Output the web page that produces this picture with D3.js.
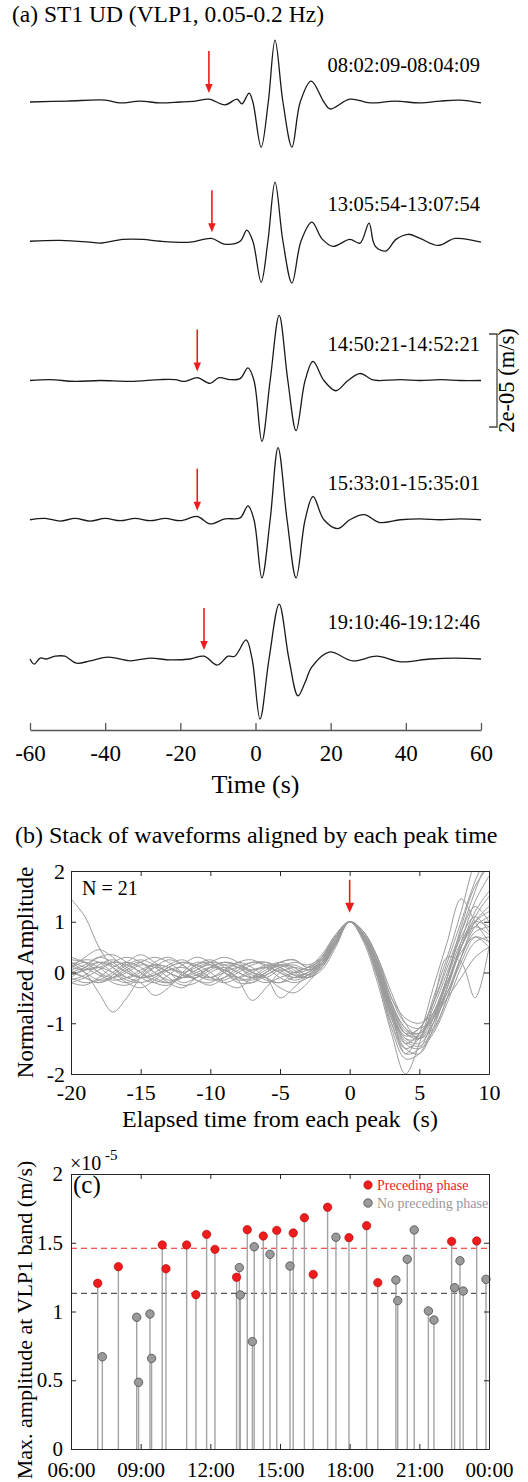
<!DOCTYPE html>
<html>
<head>
<meta charset="utf-8">
<script src="https://cdn.jsdelivr.net/npm/d3@7"></script>
<style>
  body { margin: 0; background: #fff; }
  svg { display: block; font-family: "Liberation Serif", "Times New Roman", serif; }
</style>
</head>
<body>
<div id="svgcontainer"></div>
<script>
/***************************************************************** */
/* data
/***************************************************************** */

// (a) five VLP1 waveforms, [time (s), velocity (1e-5 m/s)]
const wave1 = [[-60,0],[-50,0.02],[-40,0.04],[-36,-0.02],[-30.7,0.02],[-25.4,-0.02],[-20.1,0],[-16,0.02],[-12.4,0.06],[-8.1,-0.06],[-4.9,0.06],[-3.6,-0.04],[-1.7,0.19],[-0.7,0],[1.5,-0.97],[3.4,0],[5.2,1.33],[7.3,0],[9.7,-0.97],[11.9,0],[14.8,0.45],[18.2,0],[19.8,-0.15],[25.1,0.06],[30.5,-0.02],[37.1,0.02],[43.8,-0.02],[49.1,0.02],[54.4,0.04],[60,-0.02]]
const wave2 = [[-60,0],[-52,0.02],[-44,-0.02],[-41.4,-0.04],[-35.3,0.04],[-29.9,0.04],[-25.4,0],[-17.4,-0.02],[-11.7,0.06],[-8.4,-0.06],[-4.1,0],[-2.3,0.24],[-0.7,0],[1.5,-0.88],[3.3,0],[5.2,1.27],[7.3,0],[9.7,-0.9],[12.1,0],[15.0,0.41],[17.7,0.05],[20.6,-0.11],[25.1,0.04],[27.8,-0.04],[30.2,0.39],[31.3,0],[32.1,-0.13],[34.7,-0.21],[37.4,0.04],[40.6,0.15],[43.8,0.06],[48.6,-0.09],[53.1,0.06],[60,-0.02]]
const wave3 = [[-60,0],[-54.7,0.02],[-48,-0.02],[-41.4,0],[-33.4,-0.02],[-25.4,0.02],[-21.4,0.02],[-18.8,-0.02],[-15.5,0.06],[-12.1,-0.06],[-9.7,0.06],[-6.8,0.02],[-4.1,0.04],[-2.0,0.27],[-0.4,0],[1.7,-1.31],[3.9,0],[6.3,1.40],[8.6,0],[10.8,-1.08],[13.2,0],[15.3,0.41],[18.2,0],[21.4,-0.22],[24.6,0],[27.8,0.15],[31.0,0.02],[32.6,0],[38.5,0.02],[43.8,0],[49.1,0.02],[54.4,0],[60,0]]
const wave4 = [[-60,0],[-56,0.03],[-52,-0.03],[-48,0.03],[-44,-0.03],[-40,0.03],[-36,-0.02],[-32,0.03],[-28,-0.02],[-24,0.03],[-20,-0.02],[-15.5,0.07],[-12.1,-0.09],[-8.1,0.02],[-4.1,0.04],[-2.0,0.30],[-0.4,0],[1.7,-1.25],[3.9,0],[6.0,1.55],[8.4,0],[10.8,-1.25],[13.2,0],[15.3,0.50],[18.2,0],[21.9,-0.19],[25.1,0],[28.9,0.11],[33.1,-0.06],[38.5,0],[43.8,0.02],[49.1,0],[54.4,0.02],[60,0]]
const wave5 = [[-60,0],[-58.9,-0.11],[-57.3,0.02],[-55.7,0],[-53.3,0.06],[-50.7,0.06],[-47.7,-0.09],[-44,-0.04],[-39.2,0.04],[-33.3,-0.04],[-28.1,0.02],[-22.7,-0.02],[-17.4,0],[-13.7,0.06],[-10.2,-0.13],[-7.3,0.06],[-5.5,0.06],[-2.5,0.41],[-0.9,0],[1.2,-1.29],[3.6,0],[6.3,1.18],[8.9,0],[11.3,-0.79],[13.2,-0.5],[15.0,-0.17],[19.6,0.15],[25.9,-0.04],[32.3,0.06],[38.5,-0.06],[46.4,0],[53.1,0.02],[60,0]]
const waves = [wave1, wave2, wave3, wave4, wave5]
const wave_labels = ['08:02:09-08:04:09', '13:05:54-13:07:54', '14:50:21-14:52:21', '15:33:01-15:35:01', '19:10:46-19:12:46']
const arrow_times = [-12.4, -11.6, -15.5, -15.5, -13.7]   // preceding phase (s)
const a_ticks = [-60, -40, -20, 0, 20, 40, 60]

// (b) 21 normalized waveforms, one value per second from -20 to 10 s
const stack_times = d3.range(-20, 11)
const stack_waves = [
    [1.45,1.1,0.5,0.1,-0.1,0.0,0.15,0.1,-0.05,-0.1,0.05,0.15,0.1,-0.05,-0.1,0.05,0.0,0.05,0.3,0.7,1,0.7,0.1,-0.7,-1.2,-1.1,-0.6,0.1,0.8,1.3,1.0],
    [0.2,0.0,-0.4,-0.78,-0.5,-0.1,0.1,0.0,-0.2,-0.1,0.1,0.2,0.1,-0.1,-0.2,-0.1,0.0,0.1,0.35,0.75,1,0.75,0.2,-0.6,-1.1,-1.2,-0.9,-0.3,0.5,1.2,1.6],
    [0.1,0.3,0.45,0.3,0.05,-0.1,-0.05,0.1,0.2,0.1,-0.1,-0.2,-0.1,0.05,0.1,0.0,-0.15,-0.05,0.25,0.7,1,0.8,0.3,-0.4,-1.0,-1.3,-1.0,-0.4,0.3,0.8,0.9],
    [-0.1,0.1,0.3,0.35,0.2,0.0,-0.15,-0.2,-0.05,0.15,0.25,0.1,-0.15,-0.55,-0.3,0.0,0.1,0.05,0.2,0.6,1,0.65,-0.1,-1.0,-1.5,-1.3,-0.7,0.0,0.7,1.1,0.8],
    [0.05,-0.1,-0.2,-0.05,0.15,0.25,0.15,0.0,-0.1,-0.05,0.1,0.2,0.15,0.0,-0.1,-0.5,-0.3,-0.05,0.15,0.55,1,0.7,0.0,-0.9,-1.4,-1.2,-0.8,-0.2,0.4,0.7,0.5],
    [0.25,0.2,0.0,-0.2,-0.25,-0.1,0.1,0.25,0.15,-0.05,-0.15,-0.1,0.05,0.2,0.15,0.0,-0.1,0.0,0.3,0.7,1,0.75,0.15,-0.7,-1.6,-1.5,-0.9,-0.1,0.8,1.6,2.3],
    [-0.2,-0.25,-0.1,0.1,0.2,0.1,-0.1,-0.2,-0.1,0.05,0.15,0.05,-0.1,-0.15,0.0,0.15,0.1,-0.05,0.15,0.6,1,0.6,-0.2,-1.2,-2.0,-1.4,-0.5,0.3,1.2,2.2,2.8],
    [0.0,0.1,0.2,0.1,-0.1,-0.2,-0.45,-0.3,0.0,0.2,0.15,0.0,-0.15,-0.1,0.05,0.2,0.25,0.1,0.2,0.65,1,0.7,0.05,-0.8,-1.3,-1.4,-1.0,-0.3,0.5,1.0,1.2],
    [0.15,0.0,-0.15,-0.1,0.05,0.2,0.3,0.2,0.0,-0.15,-0.2,0.0,0.2,0.25,0.1,-0.1,-0.2,-0.1,0.2,0.7,1,0.8,0.25,-0.5,-0.9,-1.0,-0.8,-0.4,0.2,0.7,0.6],
    [-0.15,-0.05,0.15,0.25,0.1,-0.1,-0.2,-0.05,0.15,0.3,0.2,0.0,-0.1,0.0,0.15,0.1,-0.05,-0.1,0.1,0.55,1,0.7,0.0,-0.9,-1.5,-1.6,-1.1,-0.3,0.6,1.4,1.9],
    [0.3,0.2,0.0,-0.1,0.0,0.15,0.1,-0.1,-0.25,-0.2,0.0,0.1,0.0,-0.1,-0.05,0.1,0.2,0.15,0.3,0.7,1,0.65,-0.05,-1.0,-1.6,-1.2,-0.3,0.6,1.45,1.0,0.6],
    [-0.05,0.05,0.1,0.0,-0.15,-0.2,-0.1,0.1,0.2,0.15,0.0,-0.2,-0.3,-0.1,0.1,0.2,0.1,-0.05,0.1,0.6,1,0.75,0.1,-0.8,-1.4,-1.5,-1.2,-0.6,0.1,0.6,0.7],
    [0.1,0.2,0.1,-0.1,-0.2,-0.05,0.2,0.3,0.15,-0.05,-0.1,0.05,0.2,0.1,-0.1,-0.2,0.0,0.1,0.25,0.65,1,0.7,0.05,-0.7,-1.2,-1.3,-0.6,0.3,0.2,-0.5,0.5],
    [-0.2,-0.1,0.05,0.2,0.3,0.2,0.0,-0.15,-0.1,0.05,0.2,0.3,0.2,0.0,-0.15,-0.2,-0.1,0.0,0.2,0.6,1,0.75,0.2,-0.6,-1.1,-1.3,-1.1,-0.5,0.3,1.0,1.3],
    [0.05,0.15,0.3,0.2,0.0,-0.1,-0.05,0.05,0.0,-0.15,-0.25,-0.1,0.1,0.2,0.2,0.05,-0.1,-0.05,0.2,0.65,1,0.7,0.1,-0.75,-1.25,-1.1,-0.6,0.2,1.0,1.8,2.4],
    [-0.1,-0.2,-0.15,0.0,0.2,0.35,0.2,0.0,-0.1,0.0,0.1,0.05,-0.1,-0.2,-0.05,0.1,0.15,0.05,0.15,0.6,1,0.8,0.3,-0.5,-1.0,-1.1,-0.9,-0.5,-0.1,0.3,0.5],
    [0.2,0.1,-0.05,-0.15,-0.1,0.05,0.15,0.1,0.0,0.1,0.2,0.15,0.0,-0.1,0.0,0.2,0.25,0.1,0.3,0.75,1,0.65,-0.1,-1.1,-1.7,-1.6,-1.0,-0.1,0.9,1.7,2.1],
    [0.0,-0.1,-0.2,-0.1,0.1,0.2,0.0,-0.2,-0.3,-0.1,0.1,0.2,0.15,0.05,0.1,0.15,0.0,-0.1,0.1,0.55,1,0.7,0.0,-0.85,-1.35,-1.45,-1.15,-0.5,0.3,0.9,1.1],
    [0.1,0.05,0.1,0.2,0.15,0.0,-0.2,-0.25,-0.05,0.15,0.2,0.0,-0.2,-0.2,0.0,0.15,0.05,-0.1,0.05,0.5,1,0.75,0.15,-0.65,-1.2,-1.25,-0.8,-0.1,0.6,1.0,0.9],
    [-0.05,0.05,0.2,0.15,0.0,-0.1,0.0,0.15,0.25,0.1,-0.1,-0.15,0.0,0.15,0.2,0.1,-0.05,0.0,0.25,0.7,1,0.7,0.05,-0.8,-1.3,-1.3,-0.9,-0.2,0.5,0.9,0.75],
    [0.15,0.25,0.2,0.0,-0.2,-0.3,-0.15,0.05,0.1,0.0,-0.1,0.0,0.1,0.0,-0.1,-0.3,-0.4,-0.2,0.15,0.6,1,0.8,0.2,-0.6,-1.15,-1.2,-0.85,-0.2,0.5,1.1,1.5]
]
const b_xticks = [-20, -15, -10, -5, 0, 5, 10]
const b_yticks = [-2, -1, 0, 1, 2]

// (c) max amplitude per event (hour of day, 1e-5 m/s)
const red_hours = [7.15, 8.04, 9.93, 10.09, 10.98, 11.38, 11.84, 12.2, 13.13, 13.59, 14.28, 14.86, 15.57, 16.05, 16.43, 17.05, 17.97, 18.73, 19.21, 22.39, 23.47]
const red_amps = [1.205, 1.326, 1.484, 1.311, 1.484, 1.122, 1.561, 1.452, 1.249, 1.595, 1.549, 1.590, 1.571, 1.682, 1.270, 1.758, 1.537, 1.624, 1.210, 1.51, 1.513]
const gray_hours = [7.35, 8.83, 8.91, 9.40, 9.47, 13.25, 13.29, 13.81, 13.89, 14.57, 15.43, 17.41, 19.99, 20.07, 20.48, 20.78, 21.39, 21.63, 22.52, 22.75, 22.89, 23.87]
const gray_amps = [0.671, 0.958, 0.485, 0.982, 0.659, 1.319, 1.12, 0.781, 1.471, 1.416, 1.331, 1.54, 1.229, 1.079, 1.38, 1.593, 1.004, 0.938, 1.173, 1.369, 1.149, 1.234]
const mean_red = 1.46
const mean_gray = 1.132
const c_xticks = [6, 9, 12, 15, 18, 21, 24]
const c_xlabels = ['06:00', '09:00', '12:00', '15:00', '18:00', '21:00', '00:00']
const c_yticks = [0, 0.5, 1, 1.5, 2]


/**------------------------------------------------------------------------
 *                           SVG
 *------------------------------------------------------------------------**/
const ink = '#262626'
const red = '#ee1c1c'

let svg = d3.select('#svgcontainer')
    .append('svg')
    .attr('width', 528)
    .attr('height', 1482)

// restyle a d3 axis the MATLAB way
function style_axis(g, size) {
    g.attr('font-family', null).attr('font-size', size)
    g.selectAll('line').attr('stroke', ink)
    g.selectAll('path').attr('stroke', ink)
    g.selectAll('text').attr('fill', '#000')
}

function draw_arrow(g, x, y_tip, len, head_w, head_h) {
    g.append('line')
        .attr('x1', x).attr('x2', x)
        .attr('y1', y_tip - len).attr('y2', y_tip - head_h + 1)
        .attr('stroke', red).attr('stroke-width', 1.6)
    g.append('path')
        .attr('d', 'M' + (x - head_w / 2) + ',' + (y_tip - head_h) + 'L' + (x + head_w / 2) + ',' + (y_tip - head_h) + 'L' + x + ',' + y_tip + 'Z')
        .attr('fill', red)
}

/**------------------------------------------------------------------------
 *                           (a) waveforms
 *------------------------------------------------------------------------**/
const a_x = d3.scaleLinear().domain([-60, 60]).range([30, 481])
const a_amp = d3.scaleLinear().domain([0, 1]).range([0, -46.5])   // 1e-5 m/s in px
const a_first = 102, a_step = 139.25

svg.append('text')
    .attr('x', 12).attr('y', 22)
    .attr('font-size', 23.5)
    .text('(a) ST1 UD (VLP1, 0.05-0.2 Hz)')

let wave_line = d3.line()
    .x(d => a_x(d[0]))
    .y(d => a_amp(d[1]))
    .curve(d3.curveCatmullRom.alpha(0.5))

for (let i = 0; i < waves.length; i++) {
    let g = svg.append('g')
        .attr('transform', 'translate(0,' + (a_first + i * a_step) + ')')

    g.append('path')
        .datum(waves[i])
        .attr('d', wave_line)
        .attr('fill', 'none')
        .attr('stroke', '#1a1a1a')
        .attr('stroke-width', 1.3)

    g.append('text')
        .attr('x', 480).attr('y', -30)
        .attr('text-anchor', 'end')
        .attr('font-size', 20.5)
        .text(wave_labels[i])

    draw_arrow(g, a_x(arrow_times[i]), -9, 42, 7.5, 9)

    // amplitude scale bar next to the middle trace
    if (i == 2) {
        g.append('path')
            .attr('d', 'M489,' + a_amp(1) + 'H497V' + a_amp(-1) + 'H489')
            .attr('fill', 'none')
            .attr('stroke', '#444')
            .attr('stroke-width', 1.3)
        g.append('text')
            .attr('transform', 'translate(514,0) rotate(-90)')
            .attr('text-anchor', 'middle')
            .attr('font-size', 22.5)
            .text('2e-05 (m/s)')
    }
}

let a_axis = svg.append('g')
    .attr('transform', 'translate(0,730)')
    .call(d3.axisBottom(a_x).tickValues(a_ticks).tickSize(-7).tickSizeOuter(0).tickPadding(15)
        .tickFormat(d => d))
style_axis(a_axis, 23)
a_axis.selectAll('line, path').attr('stroke', '#555').attr('stroke-width', 1.3)

svg.append('text')
    .attr('x', 255.5).attr('y', 793)
    .attr('text-anchor', 'middle')
    .attr('font-size', 26)
    .text('Time (s)')

/**------------------------------------------------------------------------
 *                           (b) stack
 *------------------------------------------------------------------------**/
const b_left = 71, b_right = 489, b_top = 871, b_bottom = 1074
const b_x = d3.scaleLinear().domain([-20, 10]).range([b_left, b_right])
const b_y = d3.scaleLinear().domain([-2, 2]).range([b_bottom, b_top])

svg.append('text')
    .attr('x', 15).attr('y', 843)
    .attr('font-size', 24)
    .text('(b) Stack of waveforms aligned by each peak time')

svg.append('clipPath').attr('id', 'clip_b')
    .append('rect')
    .attr('x', b_left).attr('y', b_top)
    .attr('width', b_right - b_left).attr('height', b_bottom - b_top)

let stack_line = d3.line()
    .x((d, i) => b_x(stack_times[i]))
    .y(d => b_y(d))
    .curve(d3.curveCatmullRom.alpha(0.5))

svg.append('g')
    .attr('clip-path', 'url(#clip_b)')
    .selectAll('path')
    .data(stack_waves)
    .join('path')
    .attr('d', stack_line)
    .attr('fill', 'none')
    .attr('stroke', '#9b9b9b')
    .attr('stroke-width', 1)

let bx = svg.append('g').attr('transform', 'translate(0,' + b_bottom + ')')
    .call(d3.axisBottom(b_x).tickValues(b_xticks).tickSize(-5).tickSizeOuter(0).tickPadding(10).tickFormat(d => d))
let bxt = svg.append('g').attr('transform', 'translate(0,' + b_top + ')')
    .call(d3.axisTop(b_x).tickValues(b_xticks).tickSize(-5).tickSizeOuter(0).tickFormat(''))
let by = svg.append('g').attr('transform', 'translate(' + b_left + ',0)')
    .call(d3.axisLeft(b_y).tickValues(b_yticks).tickSize(-5).tickSizeOuter(0).tickPadding(6).tickFormat(d => d))
let byr = svg.append('g').attr('transform', 'translate(' + b_right + ',0)')
    .call(d3.axisRight(b_y).tickValues(b_yticks).tickSize(-5).tickSizeOuter(0).tickFormat(''))
;[bx, bxt, by, byr].forEach(g => style_axis(g, 22))

svg.append('text')
    .attr('x', 82).attr('y', 895)
    .attr('font-size', 20)
    .text('N = 21')

draw_arrow(svg, b_x(0), b_y(1) - 9, 33, 9, 10)

svg.append('text')
    .attr('x', 280).attr('y', 1127)
    .attr('text-anchor', 'middle')
    .attr('font-size', 24)
    .style('white-space', 'pre')
    .text('Elapsed time from each peak  (s)')

svg.append('text')
    .attr('transform', 'translate(33,' + ((b_top + b_bottom) / 2) + ') rotate(-90)')
    .attr('text-anchor', 'middle')
    .attr('font-size', 23)
    .text('Normalized Amplitude')

/**------------------------------------------------------------------------
 *                           (c) max amplitudes
 *------------------------------------------------------------------------**/
const c_left = 71, c_right = 489, c_top = 1174, c_bottom = 1449
const c_x = d3.scaleLinear().domain([6, 24]).range([c_left, c_right])
const c_y = d3.scaleLinear().domain([0, 2]).range([c_bottom, c_top])

// mean lines
svg.append('line')
    .attr('x1', c_left).attr('x2', c_right)
    .attr('y1', c_y(mean_red)).attr('y2', c_y(mean_red))
    .attr('stroke', red).attr('stroke-width', 1.2).attr('stroke-dasharray', '6,4')
svg.append('line')
    .attr('x1', c_left).attr('x2', c_right)
    .attr('y1', c_y(mean_gray)).attr('y2', c_y(mean_gray))
    .attr('stroke', '#555').attr('stroke-width', 1.2).attr('stroke-dasharray', '6,4')

// stems first, then heads
let stems = red_hours.map((h, i) => [h, red_amps[i]])
    .concat(gray_hours.map((h, i) => [h, gray_amps[i]]))
svg.append('g')
    .selectAll('line')
    .data(stems)
    .join('line')
    .attr('x1', d => c_x(d[0])).attr('x2', d => c_x(d[0]))
    .attr('y1', c_y(0)).attr('y2', d => c_y(d[1]))
    .attr('stroke', '#a3a3a3').attr('stroke-width', 1.4)

svg.append('g')
    .selectAll('circle')
    .data(red_hours)
    .join('circle')
    .attr('cx', d => c_x(d))
    .attr('cy', (d, i) => c_y(red_amps[i]))
    .attr('r', 4.2)
    .attr('fill', red).attr('stroke', '#b00000').attr('stroke-width', 0.6)

svg.append('g')
    .selectAll('circle')
    .data(gray_hours)
    .join('circle')
    .attr('cx', d => c_x(d))
    .attr('cy', (d, i) => c_y(gray_amps[i]))
    .attr('r', 4.2)
    .attr('fill', '#9a9a9a').attr('stroke', '#4a4a4a').attr('stroke-width', 0.8)

let cx = svg.append('g').attr('transform', 'translate(0,' + c_bottom + ')')
    .call(d3.axisBottom(c_x).tickValues(c_xticks).tickSize(-5).tickSizeOuter(0).tickPadding(13)
        .tickFormat((d, i) => c_xlabels[i]))
let cxt = svg.append('g').attr('transform', 'translate(0,' + c_top + ')')
    .call(d3.axisTop(c_x).tickValues(c_xticks).tickSize(-5).tickSizeOuter(0).tickFormat(''))
let cy = svg.append('g').attr('transform', 'translate(' + c_left + ',0)')
    .call(d3.axisLeft(c_y).tickValues(c_yticks).tickSize(-5).tickSizeOuter(0).tickPadding(8).tickFormat(d => d))
let cyr = svg.append('g').attr('transform', 'translate(' + c_right + ',0)')
    .call(d3.axisRight(c_y).tickValues(c_yticks).tickSize(-5).tickSizeOuter(0).tickFormat(''))
;[cx, cxt, cy, cyr].forEach(g => style_axis(g, 21))

// exponent
svg.append('text').attr('x', 70).attr('y', 1170).attr('font-size', 20).text('\u00d710')
svg.append('text').attr('x', 105).attr('y', 1160).attr('font-size', 15).text('-5')

svg.append('text').attr('x', 73).attr('y', 1193).attr('font-size', 25).text('(c)')

// legend
svg.append('circle').attr('cx', 368).attr('cy', 1185).attr('r', 4.2)
    .attr('fill', red).attr('stroke', '#b00000').attr('stroke-width', 0.6)
svg.append('text').attr('x', 377).attr('y', 1189.5).attr('font-size', 14)
    .attr('fill', red).text('Preceding phase')
svg.append('circle').attr('cx', 368).attr('cy', 1203).attr('r', 4.2)
    .attr('fill', '#9a9a9a').attr('stroke', '#4a4a4a').attr('stroke-width', 0.8)
svg.append('text').attr('x', 377).attr('y', 1207.5).attr('font-size', 14)
    .attr('fill', '#999').text('No preceding phase')

svg.append('text')
    .attr('transform', 'translate(32,' + 1320 + ') rotate(-90)')
    .attr('text-anchor', 'middle')
    .attr('font-size', 22)
    .text('Max. amplitude at VLP1 band (m/s)')
</script>
</body>
</html>
